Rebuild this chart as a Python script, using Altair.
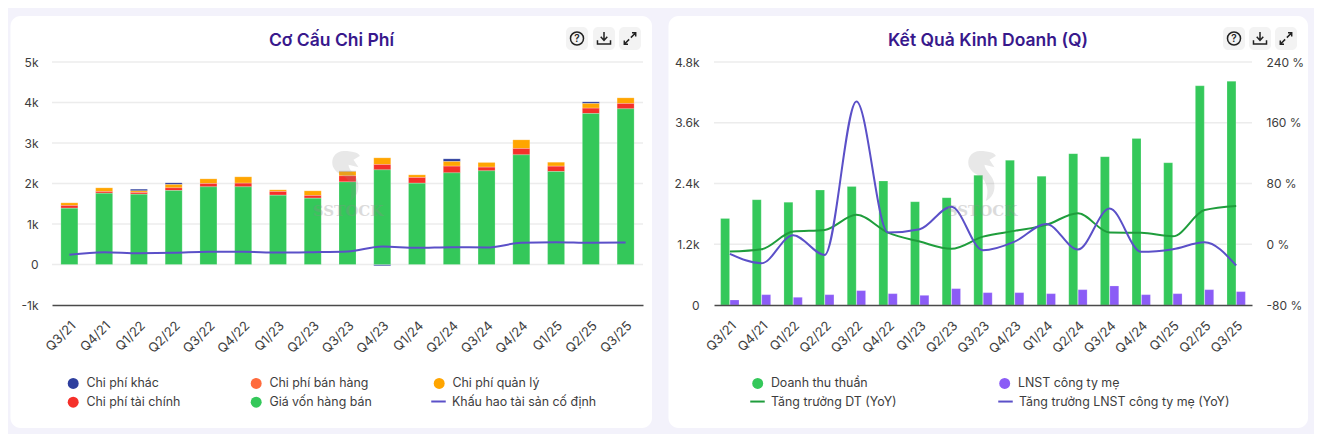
import altair as alt
import pandas as pd

quarters = ["Q3/21","Q4/21","Q1/22","Q2/22","Q3/22","Q4/22","Q1/23","Q2/23","Q3/23","Q4/23","Q1/24","Q2/24","Q3/24","Q4/24","Q1/25","Q2/25","Q3/25"]

# Left chart (values)
cogs    = [1390,1761,1737,1827,1918,1918,1712,1638,2040,2337,2008,2263,2313,2708,2296,3728,3844]
finance = [67,41,41,66,82,90,90,66,150,132,140,165,90,156,132,132,131]
selling = [0,0,8,0,0,0,0,0,0,0,0,0,0,0,0,0,0]
admin   = [66,91,33,82,115,157,42,115,106,165,66,115,116,214,99,115,140]
other   = [0,0,41,41,0,0,0,0,14,-30,0,66,0,0,0,41,0]
deprec  = [239,305,280,288,313,313,296,305,321,444,412,428,420,535,551,535,543]

# Right chart (values)
revenue = [1710,2080,2030,2270,2340,2450,2040,2120,2565,2860,2545,2990,2930,3290,2810,4330,4420]
profit  = [99,204,152,204,284,224,191,323,244,244,224,303,376,204,224,303,264]
rev_g   = [-9.7,-6.6,16.7,18.9,38.7,15.4,3.5,-6,10,17.6,25.5,40.9,15.4,15,10.5,45,50.5]
prof_g  = [-12.7,-25,11.9,-14,188,15.4,19.8,49.5,-8,3.5,26.8,-7,47,-10,-6.6,2.6,-28]

cost_names = ["Chi phí khác","Chi phí bán hàng","Chi phí quản lý","Chi phí tài chính","Giá vốn hàng bán"]
cost_colors = ["#2e3f9e","#ff6b3d","#ffa500","#f5302a","#34c85a"]
cost_values = [other,selling,admin,finance,cogs]
cost_order = [5,3,4,2,1]

left_ticks = [-1000,0,1000,2000,3000,4000,5000]
right_ticks = [0,1200,2400,3600,4800]
pct_ticks = [-80,0,80,160,240]

FONT = "Inter"
TXT = "#3d3d3d"
TITLE = "#38188c"
BLUE = "#5b50c8"
GREEN_LINE = "#1f9d3c"
GRID = "#ececec"

HORSE = "M-0.1,-1 C0.3,-1 0.55,-0.9 0.55,-0.8 L0.3,-0.65 L0.5,-0.35 L0.1,-0.45 C0.1,-0.2 0.5,0 0.5,0.4 C0.5,0.7 0.35,0.9 0.15,1 C0.3,0.6 0.2,0.2 -0.1,0 C-0.4,-0.15 -0.55,-0.3 -0.55,-0.55 C-0.55,-0.8 -0.35,-1 -0.1,-1 Z"
DOWNLOAD = "M0,-1 L0,0.25 M-0.5,-0.25 L0,0.3 L0.5,-0.25 M-1,0.25 L-1,0.85 L1,0.85 L1,0.25"
EXPAND = "M0.15,-0.15 L1,-1 M0.35,-1 L1,-1 L1,-0.35 M-0.15,0.15 L-1,1 M-0.35,1 L-1,1 L-1,0.35"

one = alt.Data(values=[{}])

def x_enc(labels=True, inner=0.5):
    return alt.X("q:N", sort=quarters, title=None,
                 scale=alt.Scale(domain=quarters, paddingInner=inner, paddingOuter=inner/2),
                 axis=alt.Axis(labelAngle=315, labelAlign="right", labelBaseline="top", labelPadding=14,
                               labelFont=FONT, labelFontSize=13, labelColor=TXT, ticks=False, zindex=1,
                               domainColor="#4a4a4a", domainWidth=1.5, labelOverlap=False))

def frame(x0, x1, y0, y1):
    return alt.Chart(one).mark_rect(fill="white", cornerRadius=10).encode(
        x=alt.value(x0), x2=alt.value(x1), y=alt.value(y0), y2=alt.value(y1))

def decor(tx, title, bx, wx, wy_text, hx):
    out = []
    out.append(alt.Chart(one).mark_text(text=title, font=FONT, fontSize=17.5, fontWeight=600, color=TITLE).encode(
        x=alt.value(tx), y=alt.value(-21)))
    for b in bx:
        out.append(alt.Chart(one).mark_rect(fill="#f3f3f3", cornerRadius=5).encode(
            x=alt.value(b), x2=alt.value(b+22), y=alt.value(-35), y2=alt.value(-12)))
    c = [b+11 for b in bx]
    out.append(alt.Chart(one).mark_point(shape="circle", size=170, filled=False, color="#222", strokeWidth=1.5, opacity=1).encode(
        x=alt.value(c[0]), y=alt.value(-23.5)))
    out.append(alt.Chart(one).mark_text(text="?", font=FONT, fontSize=10, fontWeight=600, color="#222").encode(
        x=alt.value(c[0]), y=alt.value(-23)))
    out.append(alt.Chart(one).mark_point(shape=DOWNLOAD, size=170, filled=False, color="#222", strokeWidth=1.5, opacity=1).encode(
        x=alt.value(c[1]), y=alt.value(-23.5)))
    out.append(alt.Chart(one).mark_point(shape=EXPAND, size=130, filled=False, color="#222", strokeWidth=1.5, opacity=1).encode(
        x=alt.value(c[2]), y=alt.value(-23.5)))
    out.append(alt.Chart(one).mark_point(shape=HORSE, size=2500, filled=True, fill="#8c8c8c", strokeWidth=0, opacity=0.2).encode(
        x=alt.value(hx), y=alt.value(114)))
    out.append(alt.Chart(one).mark_text(text="SSTOCK", font="DejaVu Serif", fontSize=15, fontWeight="bold", color="#8c8c8c", opacity=0.3).encode(
        x=alt.value(wx), y=alt.value(wy_text)))
    return out

W_L, W_R, H = 591, 538, 243

# ---------- left panel ----------
rows = []
for n, o, vals in zip(cost_names, cost_order, cost_values):
    for q, v in zip(quarters, vals):
        rows.append({"q": q, "series": n, "ord": o, "v": v})
cost_df = pd.DataFrame(rows)
dep_df = pd.DataFrame({"q": quarters, "v": deprec, "series": "Khấu hao tài sản cố định"})
lt_df = pd.DataFrame({"t": left_ticks[1:]})

y_left = alt.Scale(domain=[-1000, 5000], nice=False, zero=False)

left_axis = alt.Chart(lt_df).mark_rule(color=GRID, strokeWidth=1.3).encode(
    y=alt.Y("t:Q", scale=y_left, title=None,
            axis=alt.Axis(values=left_ticks, grid=False, domain=False, ticks=False, labelFont=FONT, labelFontSize=12, zindex=1,
                          labelColor=TXT, labelPadding=14,
                          labelExpr="datum.value === 0 ? '0' : (datum.value/1000) + 'k'")))

left_bars = alt.Chart(cost_df).mark_bar(size=17, stroke="white", strokeOpacity=0.2, strokeWidth=1).encode(
    x=x_enc(inner=0.5),
    y=alt.Y("v:Q", stack="zero", scale=y_left, axis=None),
    order=alt.Order("ord:Q"),
    color=alt.Color("series:N", scale=alt.Scale(domain=cost_names, range=cost_colors),
                    legend=alt.Legend(title=None, orient="none", legendX=15, legendY=315, columns=3, gridAlign="all",
                                      direction="horizontal", symbolType="circle", symbolSize=120, symbolStrokeWidth=0, symbolOpacity=1,
                                      labelFont=FONT, labelFontSize=12.4, labelColor=TXT, labelOffset=7, rowPadding=6,
                                      labelLimit=300, columnPadding=61, symbolLimit=0)),
)

left_line = alt.Chart(dep_df).mark_line(interpolate="monotone", strokeWidth=2).encode(
    x=x_enc(inner=0.5),
    y=alt.Y("v:Q", scale=y_left, axis=None),
    stroke=alt.Stroke("series:N", scale=alt.Scale(domain=["Khấu hao tài sản cố định"], range=[BLUE]),
                      legend=alt.Legend(title=None, orient="none", legendX=378, legendY=331,
                                        symbolType="stroke", symbolSize=210, symbolStrokeWidth=2,
                                        labelFont=FONT, labelFontSize=12.4, labelColor=TXT, labelOffset=5, labelLimit=300)),
)

left = alt.layer(
    frame(-41.5, 600, -46, 366), left_axis, left_bars, left_line,
    *decor(279.5, "Cơ Cấu Chi Phí", [514, 541, 567], 296, 149, 294)
).resolve_scale(y="independent", color="independent", stroke="independent").properties(width=W_L, height=H)

# ---------- right panel ----------
bar_names = ["Doanh thu thuần", "LNST công ty mẹ"]
line_names = ["Tăng trưởng DT (YoY)", "Tăng trưởng LNST công ty mẹ (YoY)"]
bar_df = pd.DataFrame(
    [{"q": q, "series": bar_names[0], "v": v} for q, v in zip(quarters, revenue)] +
    [{"q": q, "series": bar_names[1], "v": v} for q, v in zip(quarters, profit)])
line_df = pd.DataFrame(
    [{"q": q, "series": line_names[0], "v": v} for q, v in zip(quarters, rev_g)] +
    [{"q": q, "series": line_names[1], "v": v} for q, v in zip(quarters, prof_g)])
rt_df = pd.DataFrame({"t": right_ticks[1:]})

y_right = alt.Scale(domain=[0, 4800], nice=False, zero=False)
y_pct = alt.Scale(domain=[-80, 240], nice=False, zero=False)

right_axis = alt.Chart(rt_df).mark_rule(color=GRID, strokeWidth=1.3).encode(
    y=alt.Y("t:Q", scale=y_right, title=None,
            axis=alt.Axis(values=right_ticks, grid=False, domain=False, ticks=False, labelFont=FONT, labelFontSize=12, zindex=1,
                          labelColor=TXT, labelPadding=15,
                          labelExpr="datum.value === 0 ? '0' : (datum.value/1000) + 'k'")))

right_bars = alt.Chart(bar_df).mark_bar(stroke="white", strokeOpacity=0.2, strokeWidth=1).encode(
    x=x_enc(inner=0.42),
    xOffset=alt.XOffset("series:N", sort=bar_names, scale=alt.Scale(domain=bar_names, paddingInner=0.05)),
    y=alt.Y("v:Q", scale=y_right, axis=None),
    color=alt.Color("series:N", scale=alt.Scale(domain=bar_names, range=["#34c85a", "#8b5cf6"]),
                    legend=alt.Legend(title=None, orient="none", legendX=37.5, legendY=315, columns=2, gridAlign="all",
                                      direction="horizontal", symbolType="circle", symbolSize=120, symbolStrokeWidth=0, symbolOpacity=1,
                                      labelFont=FONT, labelFontSize=12.4, labelColor=TXT, labelOffset=7, labelLimit=300,
                                      columnPadding=126)),
)

right_lines = alt.Chart(line_df).mark_line(interpolate="monotone", strokeWidth=2).encode(
    x=x_enc(inner=0.42),
    y=alt.Y("v:Q", scale=y_pct, title=None,
            axis=alt.Axis(values=pct_ticks, orient="right", grid=False, domain=False, ticks=False, labelFont=FONT, zindex=1,
                          labelFontSize=12, labelColor=TXT, labelPadding=14, labelExpr="datum.value + ' %'")),
    detail="series:N",
    stroke=alt.Stroke("series:N", scale=alt.Scale(domain=line_names, range=[GREEN_LINE, BLUE]),
                      legend=alt.Legend(title=None, orient="none", legendX=35, legendY=331, columns=2, gridAlign="all",
                                        direction="horizontal", symbolType="stroke", symbolSize=210, symbolStrokeWidth=2,
                                        labelFont=FONT, labelFontSize=12.4, labelColor=TXT, labelOffset=5, labelLimit=300,
                                        columnPadding=12)),
)

right = alt.layer(
    frame(-45.5, 594, -46, 366), right_axis, right_bars, right_lines,
    *decor(274, "Kết Quả Kinh Doanh (Q)", [509, 535, 561], 268, 149, 268)
).resolve_scale(y="independent", color="independent", stroke="independent").properties(width=W_R, height=H)

chart = alt.hconcat(left, right, spacing=71, bounds="flush").properties(
    background="#f3f2fb", padding={"left": 2, "top": 8, "right": 6, "bottom": 6}
).configure_view(strokeWidth=0)

chart.save("out.html", embed_options={"renderer": "svg", "actions": False})
